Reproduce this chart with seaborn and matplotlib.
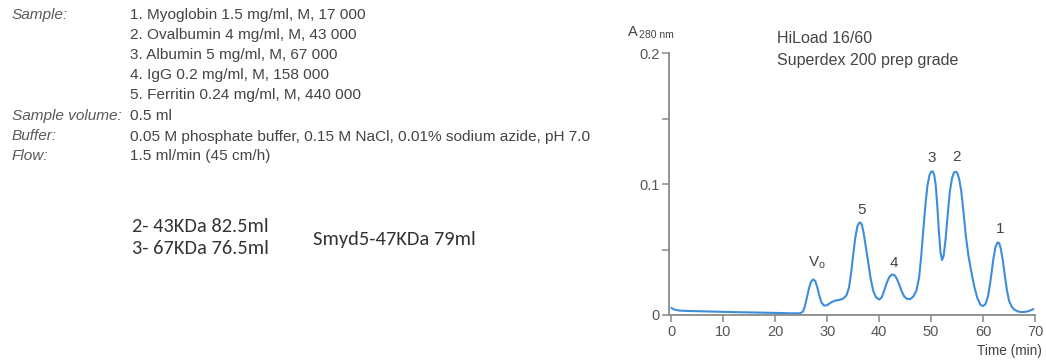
import matplotlib
matplotlib.use("Agg")
import matplotlib.pyplot as plt
import seaborn as sns
import pandas as pd

# ---- data ----
time_min = [0, 0.5, 1.5, 3, 5, 8, 12, 16, 20, 23, 24.8, 25.3, 25.7, 26.1, 26.5, 26.9, 27.3, 27.7,
            28.1, 28.5, 28.9, 29.4, 30.0, 30.7, 31.5, 32.3, 33.1, 33.7, 34.2, 34.6, 35.0, 35.4,
            35.8, 36.1, 36.4, 36.7, 37.0, 37.4, 37.9, 38.4, 38.9, 39.4, 40.0, 40.5, 41.0, 41.5,
            42.0, 42.5, 42.9, 43.3, 43.8, 44.3, 44.8, 45.4, 46.0, 46.6, 47.2, 47.7, 48.1, 48.5,
            48.9, 49.3, 49.7, 50.0, 50.3, 50.6, 50.9, 51.2, 51.5, 51.8, 52.1, 52.4, 52.8, 53.2,
            53.6, 54.0, 54.4, 54.8, 55.1, 55.4, 55.8, 56.2, 56.7, 57.2, 57.7, 58.3, 58.9, 59.5,
            60.0, 60.5, 61.0, 61.5, 62.0, 62.4, 62.8, 63.1, 63.4, 63.8, 64.2, 64.6, 65.0, 65.5,
            66.0, 66.7, 67.5, 68.3, 69.0, 69.7]
a280 = [0.0055, 0.0042, 0.0034, 0.0031, 0.0029, 0.0026, 0.0022, 0.0019, 0.0016, 0.0013, 0.0013,
        0.0025, 0.0065, 0.0135, 0.0205, 0.0255, 0.0272, 0.026, 0.021, 0.0145, 0.0095, 0.0072,
        0.0075, 0.0095, 0.011, 0.0115, 0.0125, 0.015, 0.021, 0.032, 0.046, 0.059, 0.0675,
        0.0702, 0.0707, 0.0685, 0.063, 0.053, 0.040, 0.027, 0.018, 0.0135, 0.0118, 0.0135,
        0.019, 0.025, 0.0293, 0.031, 0.0305, 0.0285, 0.024, 0.0185, 0.0143, 0.0122, 0.0122,
        0.0142, 0.019, 0.029, 0.045, 0.065, 0.084, 0.099, 0.107, 0.1095, 0.1098, 0.107, 0.099,
        0.083, 0.064, 0.048, 0.042, 0.045, 0.058, 0.077, 0.094, 0.104, 0.109, 0.1095, 0.108,
        0.104, 0.095, 0.080, 0.060, 0.045, 0.034, 0.022, 0.013, 0.0078, 0.0068, 0.0085, 0.015,
        0.028, 0.043, 0.052, 0.0555, 0.055, 0.051, 0.042, 0.030, 0.019, 0.011, 0.0065, 0.0042,
        0.0027, 0.0022, 0.0025, 0.0033, 0.0045]

peak_labels = [r"$\mathregular{V_o}$", "5", "4", "3", "2", "1"]
peak_label_x = [28.0, 36.6, 42.8, 50.2, 54.8, 63.2]
peak_label_y = [0.040, 0.080, 0.040, 0.1197, 0.121, 0.0655]

x_ticks = [0, 10, 20, 30, 40, 50, 60, 70]
y_ticks = [0, 0.05, 0.1, 0.15, 0.2]
y_tick_labels = ["0", "", "0.1", "", "0.2"]

info_keys = ["Sample:", "", "", "", "", "Sample volume:", "Buffer:", "Flow:"]
info_vals = ["1. Myoglobin 1.5 mg/ml, M, 17 000",
             "2. Ovalbumin 4 mg/ml, M, 43 000",
             "3. Albumin 5 mg/ml, M, 67 000",
             "4. IgG 0.2 mg/ml, M, 158 000",
             "5. Ferritin 0.24 mg/ml, M, 440 000",
             "0.5 ml",
             "0.05 M phosphate buffer, 0.15 M NaCl, 0.01% sodium azide, pH 7.0",
             "1.5 ml/min (45 cm/h)"]

notes_left = ["2- 43KDa 82.5ml", "3- 67KDa 76.5ml"]
note_right = "Smyd5-47KDa 79ml"
column_title = ["HiLoad 16/60", "Superdex 200 prep grade"]

# ---- style ----
sns.set_theme(style="white")
FONT = ["Liberation Sans", "DejaVu Sans"]
plt.rcParams["font.family"] = FONT
TXT = "#444444"
AX = "#8a8a8a"
LINE = "#3d8ddb"

W, H = 1046, 360
fig = plt.figure(figsize=(W / 100, H / 100), dpi=100)
fig.patch.set_facecolor("white")

ax = fig.add_axes([669.3 / W, 45 / H, 366.2 / W, 261.7 / H])
df = pd.DataFrame({"t": time_min, "a": a280})
sns.lineplot(data=df, x="t", y="a", ax=ax, sort=False, estimator=None,
             color=LINE, linewidth=1.5)

ax.set_xlim(-0.4, 70.1)
ax.set_ylim(0, 0.2)
ax.set_xticks(x_ticks)
ax.set_xticklabels([str(v) for v in x_ticks])
ax.set_yticks(y_ticks)
ax.set_yticklabels(y_tick_labels)
ax.set_xlabel("")
ax.set_ylabel("")
for s in ["top", "right"]:
    ax.spines[s].set_visible(False)
for s in ["left", "bottom"]:
    ax.spines[s].set_color(AX)
    ax.spines[s].set_linewidth(1.3)
ax.tick_params(axis="both", which="major", direction="out", length=5, width=1.1, color=AX,
               labelcolor="#555555", labelsize=10.5, bottom=True, left=True)
ax.tick_params(axis="x", pad=2)
ax.tick_params(axis="y", pad=2)
ax.set_facecolor("white")
ax.patch.set_alpha(0)

for lab, lx, ly in zip(peak_labels, peak_label_x, peak_label_y):
    ax.text(lx, ly, lab, ha="center", va="center", fontsize=11, color="#444444")

# axis titles
fig.text(633 / W, 1 - 31.5 / H, "A", ha="center", va="center", fontsize=10.5, color=TXT)
fig.text(639 / W, 1 - 35 / H, "280 nm", ha="left", va="center", fontsize=7.5, color=TXT)
fig.text(1042 / W, 1 - 350.5 / H, "Time (min)", ha="right", va="center", fontsize=9.8, color=TXT)

fig.text(777 / W, 1 - 38.3 / H, column_title[0], ha="left", va="center", fontsize=11.5, color=TXT)
fig.text(777 / W, 1 - 60.7 / H, column_title[1], ha="left", va="center", fontsize=11.5, color=TXT)

# info block
y_rows = [15, 35, 55, 75, 95, 116, 136.5, 156]
for k, v, yy in zip(info_keys, info_vals, y_rows):
    if k:
        fig.text(11.7 / W, 1 - yy / H, k, ha="left", va="center", fontsize=11.1,
                 style="italic", color="#5a5a5a")
    fig.text(130 / W, 1 - yy / H, v, ha="left", va="center", fontsize=11.1, color=TXT)

# notes (Calibri-like)
NOTE_FONT = ["Carlito", "DejaVu Sans"]
fig.text(131.7 / W, 1 - 227 / H, notes_left[0], ha="left", va="center", fontsize=14.7,
         family=NOTE_FONT, color="#333333")
fig.text(131.7 / W, 1 - 248 / H, notes_left[1], ha="left", va="center", fontsize=14.7,
         family=NOTE_FONT, color="#333333")
fig.text(313.3 / W, 1 - 239 / H, note_right, ha="left", va="center", fontsize=14.7,
         family=NOTE_FONT, color="#333333")

fig.savefig("out.png", dpi=100, facecolor="white")
